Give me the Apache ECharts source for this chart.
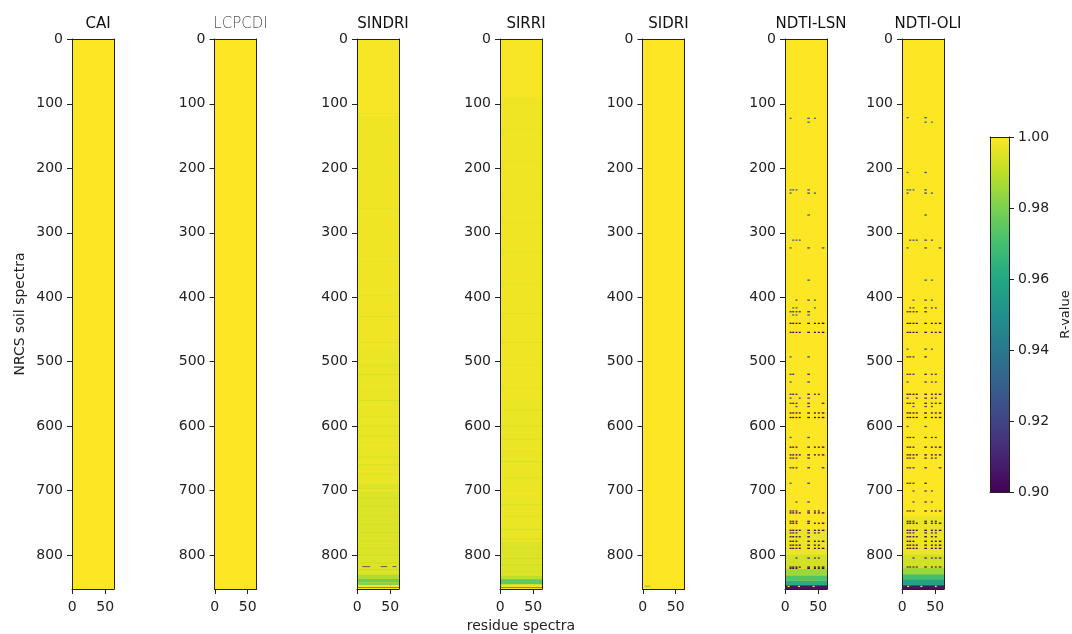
<!DOCTYPE html>
<html>
<head>
<meta charset="utf-8">
<script src="https://cdn.jsdelivr.net/npm/echarts@6/dist/echarts.min.js"></script>
<style>
  html, body { margin: 0; padding: 0; background: #ffffff; }
  #chart { width: 1072px; height: 634px; }
</style>
</head>
<body>
<div id="chart"></div>
<script>
// Correlation (R-value) of every NRCS soil spectrum (rows) against every residue spectrum (columns)
const panelNames = ['CAI', 'LCPCDI', 'SINDRI', 'SIRRI', 'SIDRI', 'NDTI-LSN', 'NDTI-OLI'];
const rowCount = 853;
const colCount = 64;
const yTickValues = [0, 100, 200, 300, 400, 500, 600, 700, 800];
const xTickValues = [0, 50];
const rMin = 0.90;
const rMax = 1.00;
const rStep = 0.02;
const viridis = ['#440154', '#482475', '#414487', '#355f8d', '#2a788e', '#21918c',
                 '#22a884', '#44bf70', '#7ad151', '#bddf26', '#fde725'];

// Blocks of equal R: [firstRow, endRow, firstCol, endCol, R]  (end exclusive)
const caiBlocks = [[0, 853, 0, 64, 1.0]];
const lcpcdiBlocks = [[0, 853, 0, 64, 1.0]];
const sidriBlocks = [[0, 853, 0, 64, 1.0], [848, 849, 3, 12, 0.96]];

const sindriBlocks = [
  [0, 853, 0, 64, 0.998],
  [0, 120, 0, 64, 0.999],
  [480, 853, 0, 64, 0.997],
  [690, 835, 0, 64, 0.995],
  [818, 819, 8, 20, 0.90], [818, 819, 36, 46, 0.90], [818, 819, 54, 60, 0.90],
  [831, 837, 0, 64, 0.988],
  [837, 843, 0, 64, 0.978],
  [843, 847, 0, 64, 0.982],
  [847, 850, 0, 64, 1.0],
  [850, 851, 0, 64, 0.92],
  [851, 853, 0, 64, 0.998]
];
// thin lighter / greener rows running across the SINDRI panel
const sindriStripeRows = [115, 160, 205, 262, 300, 345, 398, 430, 470, 505, 520, 545, 560, 585, 600,
                          615, 630, 648, 660, 675, 700, 712, 725, 740, 752, 765, 778, 790, 800, 812, 822];
const sindriStripeR = [0.996, 0.996, 0.996, 0.995, 0.996, 0.995, 0.995, 0.994, 0.995, 0.994, 0.993, 0.994, 0.993, 0.994, 0.993,
                       0.993, 1.0, 0.993, 0.992, 0.993, 1.0, 0.992, 0.991, 0.992, 0.991, 0.991, 0.992, 0.991, 0.99, 0.991, 0.99];

const sirriBlocks = [
  [0, 853, 0, 64, 0.998],
  [0, 90, 0, 64, 0.999],
  [560, 853, 0, 64, 0.997],
  [780, 835, 0, 64, 0.995],
  [833, 838, 0, 64, 0.99],
  [838, 846, 0, 64, 0.975],
  [846, 850, 0, 64, 0.998],
  [850, 851, 0, 64, 0.92],
  [851, 853, 0, 64, 0.998]
];
const sirriStripeRows = [140, 190, 240, 285, 330, 380, 425, 470, 505, 540, 575, 600, 620, 635, 655,
                         680, 705, 722, 740, 760, 775, 790, 805, 815, 825];
const sirriStripeR = [0.996, 0.996, 0.996, 0.996, 0.995, 0.996, 0.995, 0.994, 0.995, 0.994, 0.994, 0.993, 0.994, 1.0, 0.993,
                      0.993, 1.0, 0.992, 0.993, 0.992, 0.991, 0.992, 0.991, 0.99, 0.991];

// narrow column groups where low R values cluster in the NDTI panels
const speckleCols = [[7, 10], [11, 14], [16, 19], [21, 24], [34, 38], [44, 47], [50, 53], [56, 60]];

const lsnBlocks = [
  [0, 853, 0, 64, 1.0],
  [760, 800, 0, 64, 0.997],
  [800, 822, 0, 64, 0.993],
  [822, 832, 0, 64, 0.985],
  [832, 840, 0, 64, 0.972],
  [840, 847, 0, 64, 0.962],
  [847, 853, 0, 64, 0.905],
  [848, 850, 4, 7, 1.0], [848, 850, 20, 23, 1.0], [848, 850, 42, 45, 1.0]
];
const lsnSpeckleRows = [122, 128, 233, 238, 272, 311, 323, 373, 404, 416, 422, 427, 440, 454, 492, 519,
                        531, 550, 556, 564, 569, 579, 586, 617, 632, 644, 649, 664, 688, 717, 731, 734,
                        747, 750, 761, 765, 771, 778, 784, 789, 804, 818, 820, 827];
const lsnSpeckleMask = ['10001100', '00001000', '11101000', '10001100', '00001000', '01110000', '10001001', '00001000',
                        '00101100', '01100100', '11111000', '01101000', '11111111', '11111111', '10001000', '11001000',
                        '10001000', '11101110', '10011000', '11101001', '00101000', '11111111', '11111111', '10001000',
                        '11101111', '11111111', '11101000', '11101001', '10001000', '00101000', '11101110', '11111111',
                        '11101000', '11101111', '11111111', '11101110', '11111000', '11101111', '11111110', '11111111',
                        '00101110', '11111111', '11101111', '11111111'];
const lsnSpeckleR = [0.93, 0.94, 0.93, 0.92, 0.93, 0.93, 0.92, 0.93, 0.92, 0.93, 0.91, 0.93, 0.90, 0.90, 0.92, 0.91,
                     0.92, 0.91, 0.92, 0.91, 0.92, 0.90, 0.90, 0.92, 0.90, 0.90, 0.91, 0.91, 0.92, 0.92, 0.91, 0.90,
                     0.91, 0.90, 0.90, 0.91, 0.90, 0.90, 0.90, 0.90, 0.91, 0.90, 0.90, 0.90];

const oliBlocks = [
  [0, 853, 0, 64, 1.0],
  [740, 800, 0, 64, 0.997],
  [800, 820, 0, 64, 0.993],
  [820, 830, 0, 64, 0.985],
  [830, 838, 0, 64, 0.97],
  [838, 847, 0, 64, 0.958],
  [847, 853, 0, 64, 0.905],
  [848, 850, 8, 11, 1.0], [848, 850, 28, 31, 1.0], [848, 850, 50, 53, 1.0]
];
const oliSpeckleRows = [121, 128, 206, 233, 238, 272, 311, 323, 373, 404, 416, 422, 440, 454, 480, 492,
                        519, 531, 550, 556, 564, 569, 579, 586, 600, 617, 632, 644, 649, 664, 688, 700,
                        717, 731, 747, 750, 761, 765, 771, 778, 784, 789, 804, 818, 827];
const oliSpeckleMask = ['10001000', '00001100', '10001000', '11101000', '10001100', '00001000', '01111100', '10001001',
                        '00001100', '00101100', '01101110', '11111000', '11111111', '11111111', '10001100', '11101000',
                        '11101110', '10001110', '11111111', '10011110', '11101111', '00101100', '11111111', '11111111',
                        '10001000', '11101110', '11101111', '11111111', '11101110', '11101001', '11101000', '00101100',
                        '00101100', '11101111', '11101110', '11111111', '11111111', '11101110', '11111110', '11101111',
                        '11111111', '11111111', '00101111', '11111111', '11111111'];
const oliSpeckleR = [0.93, 0.94, 0.93, 0.93, 0.92, 0.93, 0.92, 0.92, 0.93, 0.92, 0.92, 0.91, 0.90, 0.90, 0.92, 0.91,
                     0.91, 0.92, 0.90, 0.91, 0.91, 0.92, 0.90, 0.90, 0.92, 0.91, 0.90, 0.90, 0.91, 0.91, 0.91, 0.92,
                     0.92, 0.91, 0.91, 0.90, 0.90, 0.91, 0.90, 0.90, 0.90, 0.90, 0.91, 0.90, 0.90];

// ---------- assemble blocks ----------
function stripes(rows, values) {
  return rows.map((r, i) => [r, r + 1, 0, colCount, values[i]]);
}
// each low-R entry covers two neighbouring soil spectra
function speckles(rows, masks, values) {
  const out = [];
  rows.forEach((r, i) => {
    masks[i].split('').forEach((m, g) => {
      if (m === '1') out.push([r, r + 2, speckleCols[g][0], speckleCols[g][1], values[i]]);
    });
  });
  return out;
}
const panelBlocks = [
  caiBlocks,
  lcpcdiBlocks,
  sindriBlocks.slice(0, 4).concat(stripes(sindriStripeRows, sindriStripeR), sindriBlocks.slice(4)),
  sirriBlocks.slice(0, 4).concat(stripes(sirriStripeRows, sirriStripeR), sirriBlocks.slice(4)),
  sidriBlocks,
  lsnBlocks.slice(0, 3).concat(speckles(lsnSpeckleRows, lsnSpeckleMask, lsnSpeckleR), lsnBlocks.slice(3)),
  oliBlocks.slice(0, 3).concat(speckles(oliSpeckleRows, oliSpeckleMask, oliSpeckleR), oliBlocks.slice(3))
];

// ---------- layout ----------
const panelLeft = [72, 214.5, 357, 500, 642.5, 785, 902];
const panelTop = 39;
const panelWidth = 42;
const panelHeight = 550;
const font = 'DejaVu Sans';
const ink = '#222222';

const grids = [], xAxes = [], yAxes = [], series = [];

panelNames.forEach((name, i) => {
  grids.push({
    left: panelLeft[i], top: panelTop, width: panelWidth, height: panelHeight,
    containLabel: false, outerBoundsMode: 'none'
  });
  const gx = i;
  // bottom axis with ticks
  xAxes.push({
    gridIndex: gx, type: 'value', position: 'bottom', min: -0.5, max: colCount - 0.5,
    axisLine: { show: true, onZero: false, lineStyle: { color: ink, width: 1 } },
    axisTick: { show: true, length: 5, customValues: xTickValues, lineStyle: { color: ink } },
    axisLabel: { show: true, customValues: xTickValues, margin: 11, color: ink, fontFamily: font, fontSize: 14 },
    splitLine: { show: false },
    name: name === 'SIRRI' ? 'residue spectra' : '',
    nameLocation: 'middle', nameGap: 30,
    nameTextStyle: { color: ink, fontFamily: font, fontSize: 14 },
    z: 10
  });
  // top frame line
  xAxes.push({
    gridIndex: gx, type: 'value', position: 'top', min: -0.5, max: colCount - 0.5,
    axisLine: { show: true, onZero: false, lineStyle: { color: ink, width: 1 } },
    axisTick: { show: false }, axisLabel: { show: false }, splitLine: { show: false }, z: 10
  });
  yAxes.push({
    gridIndex: gx, type: 'value', position: 'left', inverse: true, min: -0.5, max: rowCount - 0.5,
    axisLine: { show: true, onZero: false, lineStyle: { color: ink, width: 1 } },
    axisTick: { show: true, length: 5, customValues: yTickValues, lineStyle: { color: ink } },
    axisLabel: { show: true, customValues: yTickValues, margin: 9, color: ink, fontFamily: font, fontSize: 14 },
    splitLine: { show: false },
    name: i === 0 ? 'NRCS soil spectra' : '',
    nameLocation: 'middle', nameGap: 45, nameRotate: 90,
    nameTextStyle: { color: ink, fontFamily: font, fontSize: 14 },
    z: 10
  });
  yAxes.push({
    gridIndex: gx, type: 'value', position: 'right', inverse: true, min: -0.5, max: rowCount - 0.5,
    axisLine: { show: true, onZero: false, lineStyle: { color: ink, width: 1 } },
    axisTick: { show: false }, axisLabel: { show: false }, splitLine: { show: false }, z: 10
  });
  series.push({
    type: 'custom',
    name: name,
    xAxisIndex: 2 * i,
    yAxisIndex: 2 * i,
    encode: { x: [2, 3], y: [0, 1] },
    clip: true,
    silent: true,
    z: 2,
    data: panelBlocks[i],
    renderItem: function (params, api) {
      const a = api.coord([api.value(2) - 0.5, api.value(0) - 0.5]);
      const b = api.coord([api.value(3) - 0.5, api.value(1) - 0.5]);
      return {
        type: 'rect',
        shape: {
          x: Math.min(a[0], b[0]), y: Math.min(a[1], b[1]),
          width: Math.abs(b[0] - a[0]), height: Math.abs(b[1] - a[1])
        },
        style: { fill: api.visual('color') }
      };
    }
  });
});

// ---------- colour bar ----------
const cbIndex = panelNames.length;
grids.push({ left: 990, top: 137, width: 19, height: 355, outerBoundsMode: 'none' });
xAxes.push({
  gridIndex: cbIndex, type: 'value', min: 0, max: 1, show: true, position: 'bottom',
  axisLine: { show: true, onZero: false, lineStyle: { color: ink } },
  axisTick: { show: false }, axisLabel: { show: false }, splitLine: { show: false }, z: 10
});
xAxes.push({
  gridIndex: cbIndex, type: 'value', min: 0, max: 1, show: true, position: 'top',
  axisLine: { show: true, onZero: false, lineStyle: { color: ink } },
  axisTick: { show: false }, axisLabel: { show: false }, splitLine: { show: false }, z: 10
});
yAxes.push({
  gridIndex: cbIndex, type: 'value', position: 'right', min: rMin, max: rMax, interval: rStep,
  axisLine: { show: true, onZero: false, lineStyle: { color: ink } },
  axisTick: { show: true, length: 5, lineStyle: { color: ink } },
  axisLabel: { margin: 9, color: ink, fontFamily: font, fontSize: 14, formatter: v => v.toFixed(2) },
  splitLine: { show: false },
  name: 'R-value', nameLocation: 'middle', nameGap: 50, nameRotate: 90,
  nameTextStyle: { color: ink, fontFamily: font, fontSize: 13 },
  z: 10
});
yAxes.push({
  gridIndex: cbIndex, type: 'value', position: 'left', min: rMin, max: rMax,
  axisLine: { show: true, onZero: false, lineStyle: { color: ink } },
  axisTick: { show: false }, axisLabel: { show: false }, splitLine: { show: false }, z: 10
});
series.push({
  type: 'custom',
  name: 'colorbar',
  xAxisIndex: 2 * cbIndex,
  yAxisIndex: 2 * cbIndex,
  silent: true,
  data: [[0, 1, rMin, rMax]],
  renderItem: function (params, api) {
    const a = api.coord([api.value(0), api.value(3)]);
    const b = api.coord([api.value(1), api.value(2)]);
    return {
      type: 'rect',
      shape: { x: a[0], y: a[1], width: b[0] - a[0], height: b[1] - a[1] },
      style: {
        fill: {
          type: 'linear', x: 0, y: 1, x2: 0, y2: 0,
          colorStops: viridis.map((c, k) => ({ offset: k / (viridis.length - 1), color: c }))
        }
      }
    };
  }
});

// ---------- panel titles ----------
const titles = panelNames.map((name, i) => ({
  text: name,
  left: panelLeft[i] + panelWidth / 2,
  top: 12,
  textAlign: 'center',
  textStyle: {
    fontFamily: font,
    fontSize: 15,
    fontWeight: name === 'LCPCDI' ? 'lighter' : 'normal',
    color: name === 'LCPCDI' ? '#555555' : '#111111'
  }
}));

const chart = echarts.init(document.getElementById('chart'), null, { renderer: 'canvas' });
chart.setOption({
  animation: false,
  backgroundColor: '#ffffff',
  title: titles,
  grid: grids,
  xAxis: xAxes,
  yAxis: yAxes,
  visualMap: {
    show: false,
    type: 'continuous',
    min: rMin,
    max: rMax,
    dimension: 4,
    seriesIndex: panelNames.map((_, i) => i),
    inRange: { color: viridis }
  },
  series: series
});
</script>
</body>
</html>
